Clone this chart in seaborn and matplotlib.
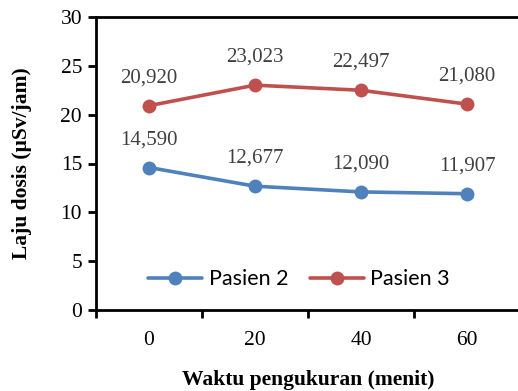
import matplotlib
matplotlib.use("Agg")
import matplotlib.pyplot as plt
from matplotlib.ticker import FixedLocator
import seaborn as sns
import pandas as pd

# Measurement times (minutes) and dose rates (µSv/jam)
waktu = ["0", "20", "40", "60"]
pasien2 = [14.590, 12.677, 12.090, 11.907]
pasien3 = [20.920, 23.023, 22.497, 21.080]
label2 = ["14,590", "12,677", "12,090", "11,907"]
label3 = ["20,920", "23,023", "22,497", "21,080"]
seri = ["Pasien 2", "Pasien 3"]
warna = ["#4F81BD", "#C0504D"]

sns.set_theme(style="white")
plt.rcParams["font.family"] = ["Liberation Serif", "DejaVu Serif"]
plt.rcParams["text.color"] = "black"
plt.rcParams["xtick.color"] = "black"
plt.rcParams["ytick.color"] = "black"
plt.rcParams["axes.labelcolor"] = "black"

pos = list(range(len(waktu)))
df = pd.DataFrame({
    "pos": pos * 2,
    "nilai": pasien2 + pasien3,
    "seri": [seri[0]] * len(pos) + [seri[1]] * len(pos),
})

fig = plt.figure(figsize=(5.18, 3.91), dpi=100)
ax = fig.add_axes([96 / 518, 1 - 310 / 391, (520 - 96) / 518, (310 - 17) / 391])

sns.lineplot(data=df, x="pos", y="nilai", hue="seri", palette=warna,
             marker="o", markersize=10, markeredgewidth=0, linewidth=2.6,
             ax=ax, legend=True)

# Value labels above each point
for vals, labs in ((pasien2, label2), (pasien3, label3)):
    for x, v, t in zip(pos, vals, labs):
        ax.annotate(t, (x, v), xytext=(0, 20), textcoords="offset points",
                    ha="center", va="center", fontsize=15, color="#404040")

ax.set_xlim(-0.5, len(waktu) - 0.5)
ax.set_ylim(0, 30)
ax.set_yticks([0, 5, 10, 15, 20, 25, 30])
ax.set_xticks(pos)
ax.set_xticklabels(waktu)
ax.xaxis.set_minor_locator(FixedLocator([p - 0.5 for p in pos] + [len(pos) - 0.5]))
ax.tick_params(axis="x", which="major", length=0, pad=15, labelsize=15.5)
ax.tick_params(axis="x", which="minor", length=6, width=2, direction="out",
               bottom=True, color="black")
ax.tick_params(axis="y", which="major", length=6, width=2, direction="out",
               left=True, color="black", labelsize=15.5, pad=4)

for s in ("left", "bottom", "top"):
    ax.spines[s].set_color("black")
    ax.spines[s].set_linewidth(2)
ax.spines["right"].set_visible(False)

ax.set_xlabel("Waktu pengukuran (menit)", fontsize=15.5, fontweight="bold")
ax.set_ylabel("Laju dosis (µSv/jam)", fontsize=15.5, fontweight="bold")
ax.xaxis.set_label_coords(0.5, -0.205)
ax.yaxis.set_label_coords(-0.152, 0.5)

leg = ax.legend(loc="center", bbox_to_anchor=(0.479, 0.105), ncol=2,
                frameon=False, handlelength=2.5, columnspacing=1.0,
                handletextpad=0.3, prop={"family": "Lato", "size": 15.5})
for line in leg.get_lines():
    line.set_linewidth(2.6)
    line.set_markersize(10)
for t in leg.get_texts():
    t.set_color("black")

fig.savefig("out.png", dpi=100)
